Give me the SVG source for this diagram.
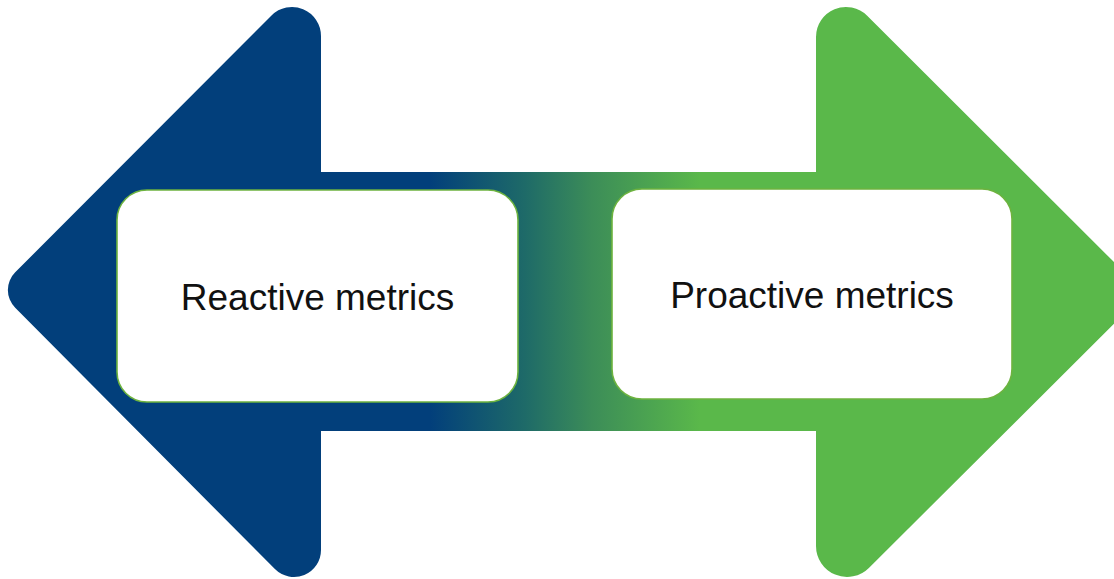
<svg xmlns="http://www.w3.org/2000/svg" width="1114" height="579" viewBox="0 0 1114 579">
  <defs>
    <linearGradient id="arrowGrad" gradientUnits="userSpaceOnUse" x1="430" y1="0" x2="700" y2="0">
      <stop offset="0" stop-color="#023F7B"/>
      <stop offset="0.35" stop-color="#1E6A68"/>
      <stop offset="0.6" stop-color="#3C8D58"/>
      <stop offset="1" stop-color="#5AB84A"/>
    </linearGradient>
  </defs>
  <style>
    .box { fill: #FFFFFF; stroke: #6DB33F; stroke-width: 1.6; }
    .label { font-family: "Liberation Sans", Arial, sans-serif; font-size: 37px; fill: #111111; text-anchor: middle; }
  </style>
  <rect width="1114" height="579" fill="#FFFFFF"/>
  <g id="connectors">
    <path id="double-arrow" fill="url(#arrowGrad)" d="M 15.2 307.7 A 25 25 0 0 1 15.2 272.3 L 271.5 15.5 A 29 29 0 0 1 321 36 L 321 172 L 816 172 L 816 37 A 30 30 0 0 1 867.2 15.8 L 1145 293 L 868.9 567.9 A 31 31 0 0 1 816 546 L 816 431 L 321 431 L 321 550 A 27 27 0 0 1 274.9 569.1 Z"/>
  </g>
  <g id="reactive">
    <rect class="box" x="117" y="190" width="401" height="212" rx="30" ry="30"/>
    <text class="label" x="317.5" y="310">Reactive metrics</text>
  </g>
  <g id="proactive">
    <rect class="box" x="612" y="189" width="400" height="210" rx="30" ry="30"/>
    <text class="label" x="812" y="308">Proactive metrics</text>
  </g>
</svg>
